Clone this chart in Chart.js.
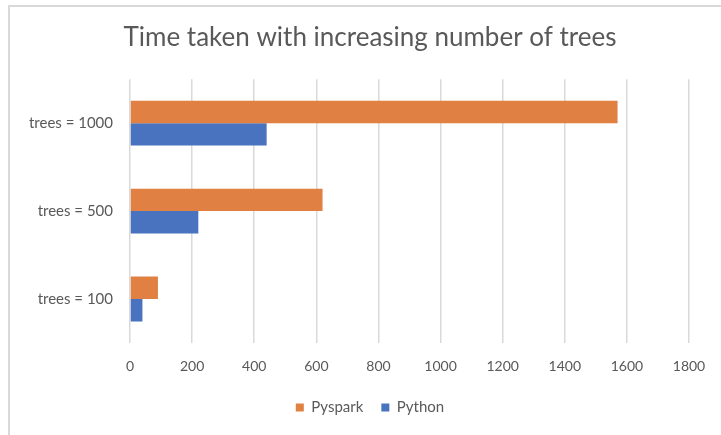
<!DOCTYPE html>
<html>
<head>
<meta charset="utf-8">
<script src="https://cdn.jsdelivr.net/npm/chart.js@4/dist/chart.umd.min.js"></script>
<style>
  body { margin: 0; background: #fff; }
  #frame {
    position: absolute; left: 8px; top: 5px; width: 713px; height: 430px;
    border-left: 2px solid #d9d9d9; border-top: 2px solid #d9d9d9;
  }
  #chart { position: absolute; left: 0; top: 0; }
</style>
</head>
<body>
<div id="frame"></div>
<canvas id="chart" width="721" height="435"></canvas>
<script>
const categories = ["trees = 1000", "trees = 500", "trees = 100"];
const pysparkTimes = [1570, 620, 90];
const pythonTimes = [440, 220, 40];
const xTicks = [0, 200, 400, 600, 800, 1000, 1200, 1400, 1600, 1800];

const textColor = "#595959";
const fontFamily = "Lato, 'Open Sans', sans-serif";

const ctx = document.getElementById("chart").getContext("2d");
const chart = new Chart(ctx, {
  type: "bar",
  data: {
    labels: categories,
    datasets: [
      {
        label: "Pyspark",
        data: pysparkTimes,
        backgroundColor: "rgb(224, 129, 67)",
        barPercentage: 1,
        categoryPercentage: 0.51,
      },
      {
        label: "Python",
        data: pythonTimes,
        backgroundColor: "rgb(73, 114, 191)",
        barPercentage: 1,
        categoryPercentage: 0.51,
      },
    ],
  },
  options: {
    indexAxis: "y",
    responsive: false,
    animation: false,
    layout: { padding: { left: 20, right: 1, top: 0, bottom: 10 } },
    scales: {
      x: {
        min: 0,
        max: xTicks[xTicks.length - 1],
        afterBuildTicks: (scale) => {
          scale.ticks = xTicks.map((v) => ({ value: v }));
        },
        afterFit: (scale) => { scale.height = 39; },
        border: { display: false },
        grid: { color: "#d9d9d9", lineWidth: 1.5, drawTicks: false },
        ticks: {
          padding: 15,
          color: textColor,
          font: { family: fontFamily, size: 14 },
          callback: (value) => String(value),
        },
      },
      y: {
        afterFit: (scale) => { scale.width = 110; },
        border: { display: false },
        grid: { display: false, drawTicks: false },
        ticks: {
          padding: 17,
          color: textColor,
          font: { family: fontFamily, size: 15 },
        },
      },
      // empty right-hand margin so the plot ends where the last gridline sits
      yRight: {
        type: "category",
        position: "right",
        afterFit: (scale) => { scale.width = 31; },
        border: { display: false },
        grid: { display: false, drawTicks: false },
        ticks: { display: false },
      },
    },
    plugins: {
      title: {
        display: true,
        text: "Time taken with increasing number of trees",
        color: textColor,
        font: { family: fontFamily, size: 26, weight: "normal" },
        padding: { top: 22, bottom: 26 },
      },
      legend: {
        position: "bottom",
        labels: {
          color: textColor,
          font: { family: fontFamily, size: 15 },
          boxWidth: 8,
          boxHeight: 8,
          padding: 18,
        },
      },
      tooltip: { enabled: false },
    },
  },
});
</script>
</body>
</html>
